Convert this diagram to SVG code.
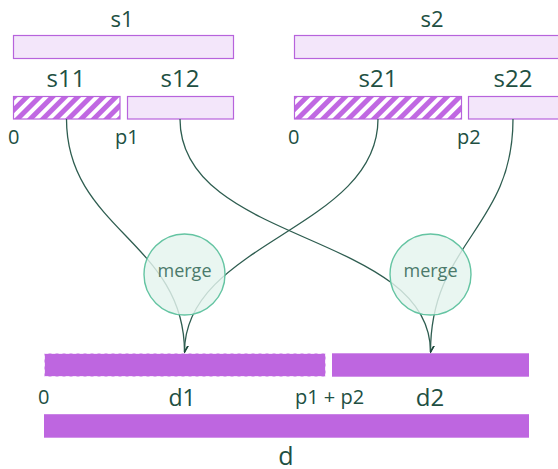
<svg xmlns="http://www.w3.org/2000/svg" width="558" height="469" viewBox="0 0 558 469">
  <style>
    .lbl { font-family: "Open Sans", "Noto Sans", sans-serif; fill: #214f42; }
    .src { fill: #f3e6fa; stroke: #b763dc; stroke-width: 1.2; }
    .part { fill: url(#hatch); stroke: #b763dc; stroke-width: 1.2; }
    .dst { fill: #be66e0; }
    .link { fill: none; stroke: #2e5d50; stroke-width: 1.3; marker-end: url(#arrow); }
    .merge { fill: #e4f4ee; fill-opacity: 0.82; stroke: #64c4a2; stroke-width: 1.4; }
    .mtxt { font-family: "Open Sans", "Noto Sans", sans-serif; font-size: 18px; fill: #4b7a6b; }
  </style>
  <defs>
    <pattern id="hatch" patternUnits="userSpaceOnUse" width="9" height="9" patternTransform="rotate(45)">
      <rect width="9" height="9" fill="#c068e2"/>
      <rect width="4" height="9" fill="#ffffff"/>
    </pattern>
    <marker id="arrow" viewBox="-6 -9 12 10" refX="0" refY="0" markerWidth="12" markerHeight="10" markerUnits="userSpaceOnUse" orient="auto-start-reverse">
      <path d="M-4,-7 L0,0 L4,-7" transform="rotate(-90)" fill="none" stroke="#1f4a3e" stroke-width="1.4"/>
    </marker>
  </defs>

  <!-- source arrays -->
  <g id="s1">
    <rect class="src" x="13.5" y="35.5" width="220" height="23"/>
    <text class="lbl" x="122" y="27" font-size="22" text-anchor="middle">s1</text>
  </g>
  <g id="s2">
    <rect class="src" x="294.5" y="35.5" width="280" height="23"/>
    <text class="lbl" x="432" y="27" font-size="22" text-anchor="middle">s2</text>
  </g>
  <g id="s11">
    <rect class="part" x="13.5" y="96.5" width="106.5" height="22.5"/>
    <text class="lbl" x="66" y="87" font-size="24" text-anchor="middle">s11</text>
  </g>
  <g id="s12">
    <rect class="src" x="127.5" y="96.5" width="106" height="22.5"/>
    <text class="lbl" x="180" y="87" font-size="24" text-anchor="middle">s12</text>
  </g>
  <g id="s21">
    <rect class="part" x="294.5" y="96.5" width="167" height="22.5"/>
    <text class="lbl" x="378" y="87" font-size="24" text-anchor="middle">s21</text>
  </g>
  <g id="s22">
    <rect class="src" x="468.5" y="96.5" width="110" height="22.5"/>
    <text class="lbl" x="513" y="87" font-size="24" text-anchor="middle">s22</text>
  </g>

  <!-- split offsets -->
  <g id="offsets-top">
    <text class="lbl" x="8" y="144" font-size="20">0</text>
    <text class="lbl" x="115" y="144" font-size="20">p1</text>
    <text class="lbl" x="288" y="144" font-size="20">0</text>
    <text class="lbl" x="457" y="144" font-size="20">p2</text>
  </g>

  <!-- connectors -->
  <g id="connectors">
    <path class="link" d="M66.5,119 C66.5,229 184.5,242 184.5,352"/>
    <path class="link" d="M378,119 C378,229 184.5,242 184.5,352"/>
    <path class="link" d="M180,119 C180,245 430.5,232 430.5,352"/>
    <path class="link" d="M513,119 C513,229 430.5,242 430.5,352"/>
  </g>

  <!-- merge steps -->
  <g id="merge1">
    <circle class="merge" cx="184.5" cy="274.5" r="40.5"/>
    <text class="mtxt" x="184.5" y="277" text-anchor="middle">merge</text>
  </g>
  <g id="merge2">
    <circle class="merge" cx="430.5" cy="274.5" r="40.5"/>
    <text class="mtxt" x="430.5" y="277" text-anchor="middle">merge</text>
  </g>

  <!-- destination -->
  <g id="d1">
    <rect class="dst" x="44.5" y="353.5" width="281" height="23" stroke="#ffffff" stroke-opacity="0.7" stroke-dasharray="4 3"/>
    <text class="lbl" x="182" y="406" font-size="23" text-anchor="middle">d1</text>
  </g>
  <g id="d2">
    <rect class="dst" x="332" y="353.3" width="197" height="23.4"/>
    <text class="lbl" x="430" y="406" font-size="24" text-anchor="middle">d2</text>
  </g>
  <g id="offsets-bottom">
    <text class="lbl" x="38" y="404" font-size="20">0</text>
    <text class="lbl" x="295" y="404" font-size="20">p1 + p2</text>
  </g>
  <g id="d">
    <rect class="dst" x="44" y="414.2" width="485" height="23.5"/>
    <text class="lbl" x="286" y="465" font-size="25" text-anchor="middle">d</text>
  </g>
</svg>
